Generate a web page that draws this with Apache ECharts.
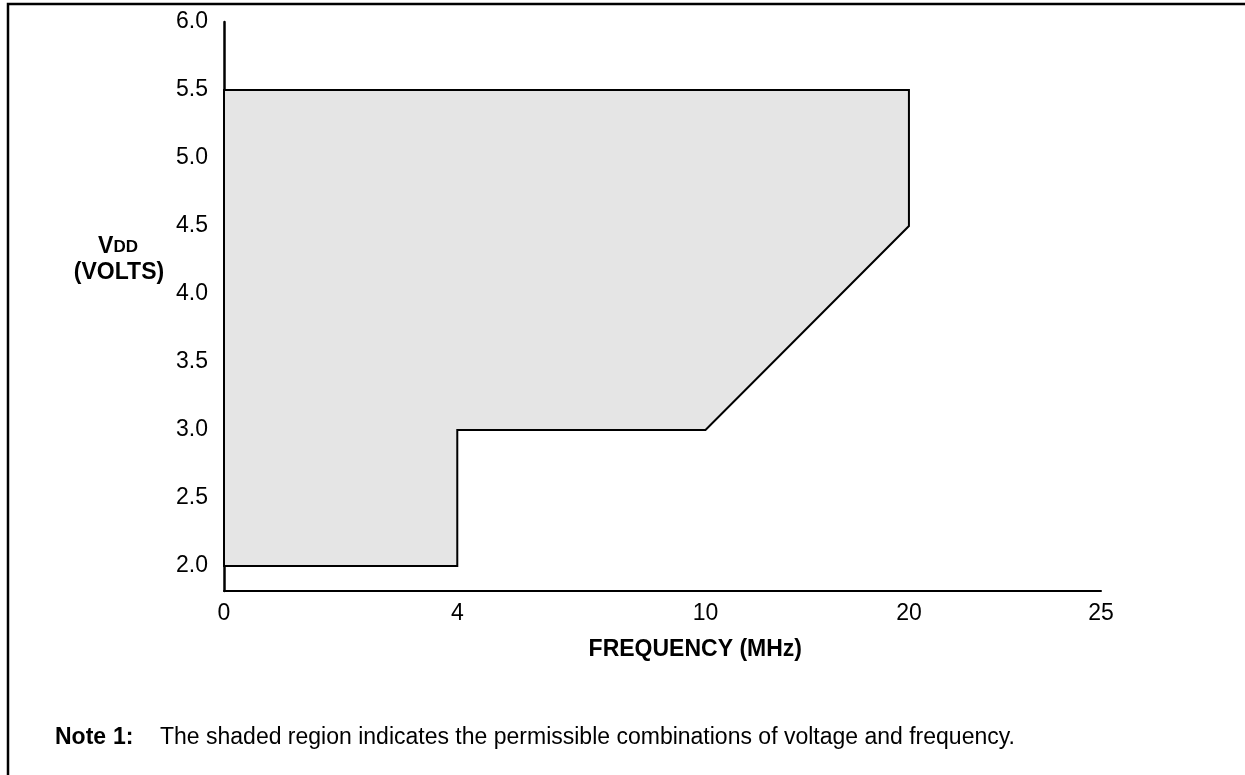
<!DOCTYPE html>
<html>
<head>
<meta charset="utf-8">
<script src="https://cdn.jsdelivr.net/npm/echarts@6/dist/echarts.min.js"></script>
<style>
html,body{margin:0;padding:0;background:#fff;}
#chart{width:1245px;height:775px;}
</style>
</head>
<body>
<div id="chart"></div>
<script>
// ---- data ----
const xTickLabelsMHz = [0, 4, 10, 20, 25];
const yTickLabelsV = [2.0, 2.5, 3.0, 3.5, 4.0, 4.5, 5.0, 5.5, 6.0];
const boundaryFreqMHz = [0, 4, 4, 10, 20, 20, 0];
const boundaryVdd = [2.0, 2.0, 3.0, 3.0, 4.5, 5.5, 5.5];

// ---- axis scale: the reference uses an uneven (schematic) frequency axis ----
const X_KNOT_FRACTION = [0, 0.266, 0.549, 0.781, 1];
function freqToAxis(f) {
  const k = xTickLabelsMHz;
  for (let i = 0; i < k.length - 1; i++) {
    if (f <= k[i + 1]) {
      const t = (f - k[i]) / (k[i + 1] - k[i]);
      return X_KNOT_FRACTION[i] + t * (X_KNOT_FRACTION[i + 1] - X_KNOT_FRACTION[i]);
    }
  }
  return 1;
}
function axisToLabel(v) {
  for (let i = 0; i < X_KNOT_FRACTION.length; i++) {
    if (Math.abs(X_KNOT_FRACTION[i] - v) < 1e-6) return String(xTickLabelsMHz[i]);
  }
  return '';
}

const FONT = '"Liberation Sans", Arial, sans-serif';
const chart = echarts.init(document.getElementById('chart'));

const polygonData = boundaryFreqMHz.map((f, i) => [freqToAxis(f), boundaryVdd[i]]);

chart.setOption({
  animation: false,
  backgroundColor: '#fff',
  grid: { left: 224, right: 144, top: 22, bottom: 184 },
  xAxis: {
    type: 'value', min: 0, max: 1,
    splitLine: { show: false },
    axisTick: { show: false },
    axisLine: { show: true, onZero: false, lineStyle: { color: '#000', width: 2 } },
    axisLabel: {
      customValues: xTickLabelsMHz.map(freqToAxis),
      formatter: axisToLabel,
      color: '#000', fontSize: 23, fontFamily: FONT, margin: 11
    }
  },
  yAxis: {
    type: 'value', min: 1.8162, max: 6.0,
    splitLine: { show: false },
    axisTick: { show: false },
    axisLine: { show: true, lineStyle: { color: '#000', width: 2.5 } },
    axisLabel: {
      customValues: yTickLabelsV,
      formatter: v => v.toFixed(1),
      color: '#000', fontSize: 23, fontFamily: FONT, margin: 16
    }
  },
  graphic: [
    { type: 'polyline', z: 100, shape: { points: [[8, 775], [8, 4], [1245, 4]] },
      style: { stroke: '#000', lineWidth: 2.5, fill: null } },
    { type: 'text', x: 118, y: 247, z: 100,
      style: { text: '{v|V}{d|DD}', align: 'center', verticalAlign: 'middle', fill: '#000',
        rich: { v: { fontSize: 23, fontWeight: 'bold', fontFamily: FONT, fill: '#000' },
                d: { fontSize: 17, fontWeight: 'bold', fontFamily: FONT, fill: '#000' } } } },
    { type: 'text', x: 119, y: 273, z: 100,
      style: { text: '(VOLTS)', align: 'center', verticalAlign: 'middle', fill: '#000',
        font: 'bold 23px ' + FONT } },
    { type: 'text', x: 802, y: 650, z: 100,
      style: { text: 'FREQUENCY (MHz)', align: 'right', verticalAlign: 'middle', fill: '#000',
        font: 'bold 23px ' + FONT } },
    { type: 'text', x: 55, y: 738, z: 100,
      style: { text: 'Note', verticalAlign: 'middle', fill: '#000', font: 'bold 23px ' + FONT } },
    { type: 'text', x: 113, y: 738, z: 100,
      style: { text: '1:', verticalAlign: 'middle', fill: '#000', font: 'bold 23px ' + FONT } },
    { type: 'text', x: 160, y: 738, z: 100,
      style: { text: 'The shaded region indicates the permissible combinations of voltage and frequency.',
        verticalAlign: 'middle', fill: '#000', font: '23px ' + FONT } }
  ],
  series: [{
    type: 'custom',
    coordinateSystem: 'cartesian2d',
    data: [polygonData[0]],
    renderItem: function (params, api) {
      const pts = polygonData.map(p => api.coord(p));
      return {
        type: 'polygon',
        shape: { points: pts },
        style: { fill: '#e5e5e5', stroke: '#000', lineWidth: 2, lineJoin: 'miter' }
      };
    }
  }]
});
</script>
</body>
</html>
